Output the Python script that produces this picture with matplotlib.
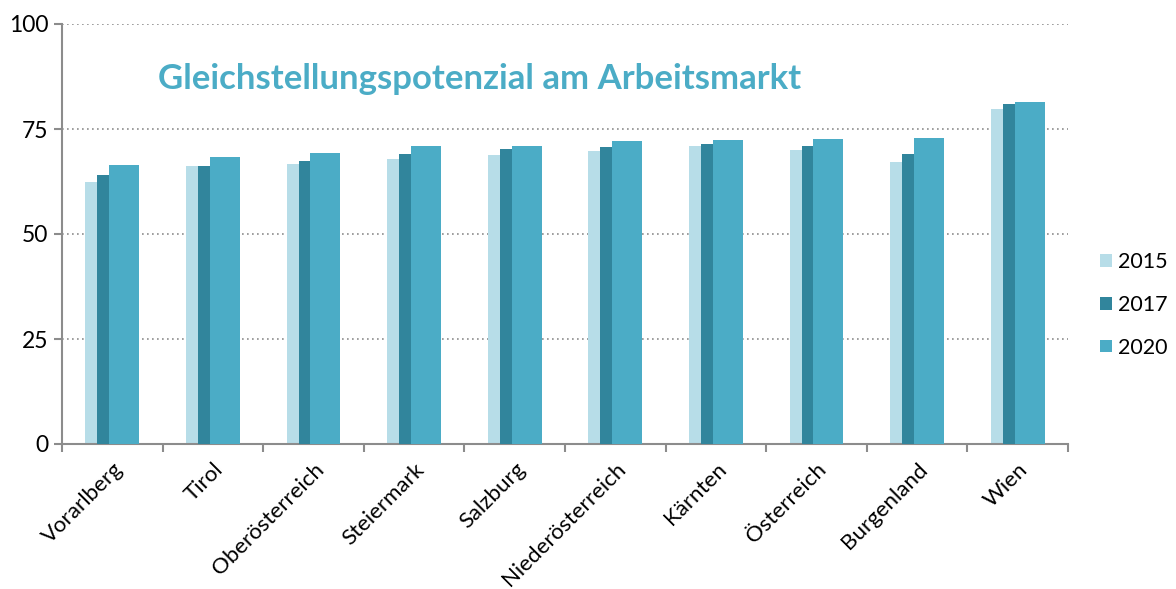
import numpy as np
from matplotlib import pyplot as plt
from matplotlib.ticker import FixedLocator, NullFormatter
from matplotlib.transforms import ScaledTranslation

regionen = ['Vorarlberg', 'Tirol', 'Oberösterreich', 'Steiermark', 'Salzburg',
            'Niederösterreich', 'Kärnten', 'Österreich', 'Burgenland', 'Wien']
werte_2015 = [62.4, 66.3, 66.6, 67.9, 68.8, 69.8, 70.9, 70.0, 67.1, 79.8]
werte_2017 = [64.0, 66.1, 67.5, 69.0, 70.2, 70.7, 71.4, 71.0, 69.0, 80.9]
werte_2020 = [66.5, 68.3, 69.3, 71.0, 71.0, 72.1, 72.4, 72.6, 72.9, 81.5]
jahre = ['2015', '2017', '2020']
farben = ['#B7DDE8', '#31859C', '#4BACC6']

plt.rcParams['font.family'] = ['Lato', 'DejaVu Sans']

fig = plt.figure(figsize=(11.76, 5.89), dpi=100)
ax = fig.add_axes([62 / 1176, 1 - 444 / 589, (1068 - 62) / 1176, 420 / 589])

x = np.arange(len(regionen))
breite = 0.298
versatz = 0.119
for i, (werte, jahr, farbe) in enumerate(zip([werte_2015, werte_2017, werte_2020], jahre, farben)):
    ax.bar(x + (i - 1) * versatz, werte, width=breite, color=farbe, label=jahr, zorder=2 + i)

ax.set_xlim(-0.5, len(regionen) - 0.5)
ax.set_ylim(0, 100)
ax.set_yticks([0, 25, 50, 75, 100])
ax.yaxis.grid(True, linestyle=(0, (1, 2)), color='#8c8c8c', linewidth=1.2)
ax.set_axisbelow(True)

ax.set_xticks(x)
ax.set_xticklabels(regionen, rotation=45, ha='right', rotation_mode='anchor', fontsize=16)
verschiebung = ScaledTranslation(10 / 100, 0, fig.dpi_scale_trans)
for lbl in ax.get_xticklabels():
    lbl.set_transform(lbl.get_transform() + verschiebung)
ax.xaxis.set_minor_locator(FixedLocator(np.arange(-0.5, len(regionen), 1)))
ax.xaxis.set_minor_formatter(NullFormatter())
ax.tick_params(axis='x', which='major', length=0, pad=11)
ax.tick_params(axis='x', which='minor', length=6, color='#8c8c8c', width=1.5)
ax.tick_params(axis='y', length=6, color='#8c8c8c', width=1.5, labelsize=16.5, pad=4)

for s in ['top', 'right']:
    ax.spines[s].set_visible(False)
for s in ['left', 'bottom']:
    ax.spines[s].set_color('#8c8c8c')
    ax.spines[s].set_linewidth(1.5)

ax.text(0.095, 0.87, 'Gleichstellungspotenzial am Arbeitsmarkt', transform=ax.transAxes,
        fontsize=25, fontweight='bold', color='#4BACC6', va='center')

fig.legend(loc='center left', bbox_to_anchor=(1100 / 1176, 1 - 305 / 589), frameon=False,
           fontsize=15.5, handlelength=0.55, handleheight=0.55, handletextpad=0.3,
           labelspacing=1.05, borderpad=0, borderaxespad=0)

plt.savefig('out.png', dpi=100)
